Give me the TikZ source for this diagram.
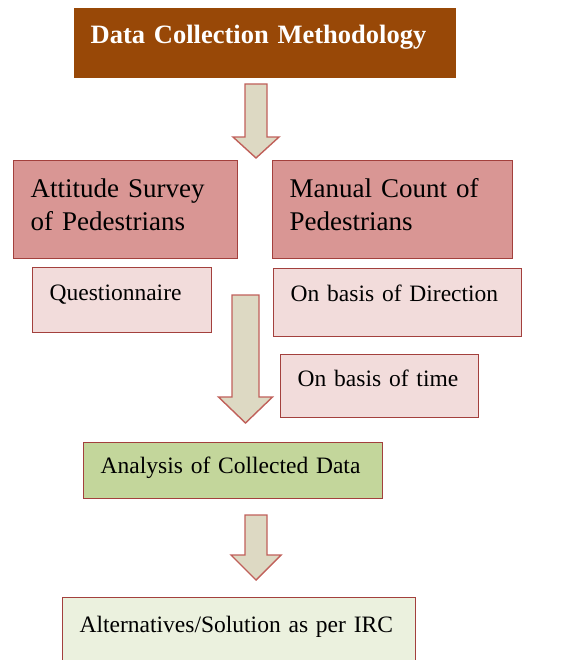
\documentclass[tikz,border=0pt]{standalone}
\usepackage{fontspec}
\setmainfont{Liberation Serif}
\usepackage{xcolor}
\usetikzlibrary{positioning}

\definecolor{brownhead}{HTML}{984807}
\definecolor{rosedark}{HTML}{D99694}
\definecolor{roselight}{HTML}{F2DCDB}
\definecolor{olivegreen}{HTML}{C3D69B}
\definecolor{palegreen}{HTML}{EBF1DE}
\definecolor{beige}{HTML}{DDD9C3}
\definecolor{redline}{HTML}{A3403D}
\definecolor{arrowline}{HTML}{C0605A}

% block arrow pointing down: x, top, shoulder, tip, half shaft, half head
\newcommand{\fatdown}[6]{%
  \draw[fatarrow] (#1-#5,#2) -- (#1+#5,#2) -- (#1+#5,#3) -- (#1+#6,#3)
    -- (#1,#4) -- (#1-#6,#3) -- (#1-#5,#3) -- cycle;}

\begin{document}
\begin{tikzpicture}[x=1bp, y=-1bp]
\tikzstyle{box} = [rectangle, anchor=north west, draw=redline, line width=1.4bp, inner xsep=17bp, inner ysep=0pt, align=left, font=\fontsize{23.5bp}{28bp}\selectfont]
\tikzstyle{head} = [box, draw=none, fill=brownhead, text=white, font=\bfseries\fontsize{26.5bp}{30bp}\selectfont]
\tikzstyle{method} = [box, fill=rosedark, font=\fontsize{27bp}{33bp}\selectfont]
\tikzstyle{detail} = [box, fill=roselight]
\tikzstyle{result} = [box, fill=olivegreen]
\tikzstyle{outcome} = [box, fill=palegreen]
\tikzstyle{fatarrow} = [fill=beige, draw=arrowline, line width=1.4bp, line join=miter]

\useasboundingbox (0,0) rectangle (568,660);

\node (title) [head, text width=348bp, text height=36bp, text depth=34bp] at (73,7) {Data Collection Methodology};

\node (survey) [method, text width=190bp, text height=37bp, text depth=61bp] at (13,160) {Attitude Survey\\of Pedestrians};
\node (count) [method, text width=206bp, text height=37bp, text depth=61bp] at (272,160) {Manual Count of\\Pedestrians};

\node (quest) [detail, text width=145bp, text height=33bp, text depth=32bp] at (32,267) {Questionnaire};
\node (direction) [detail, text width=214bp, text height=32.5bp, text depth=35.5bp] at (273,268) {On basis of Direction};
\node (time) [detail, text width=164bp, text height=32bp, text depth=31bp] at (280,354) {On basis of time};

\node (analysis) [result, text width=265bp, text height=31bp, text depth=25bp] at (83,442) {Analysis of Collected Data};
\node (solution) [outcome, text width=319bp, text height=35bp, text depth=35bp] at (62,597) {Alternatives/Solution as per IRC};

% arrows between the stages
\fatdown{256}{84}{137}{158}{11}{23}
\fatdown{245.5}{295}{397}{423}{13.5}{27}
\fatdown{256}{515}{555}{580}{11}{25}
\end{tikzpicture}
\end{document}
